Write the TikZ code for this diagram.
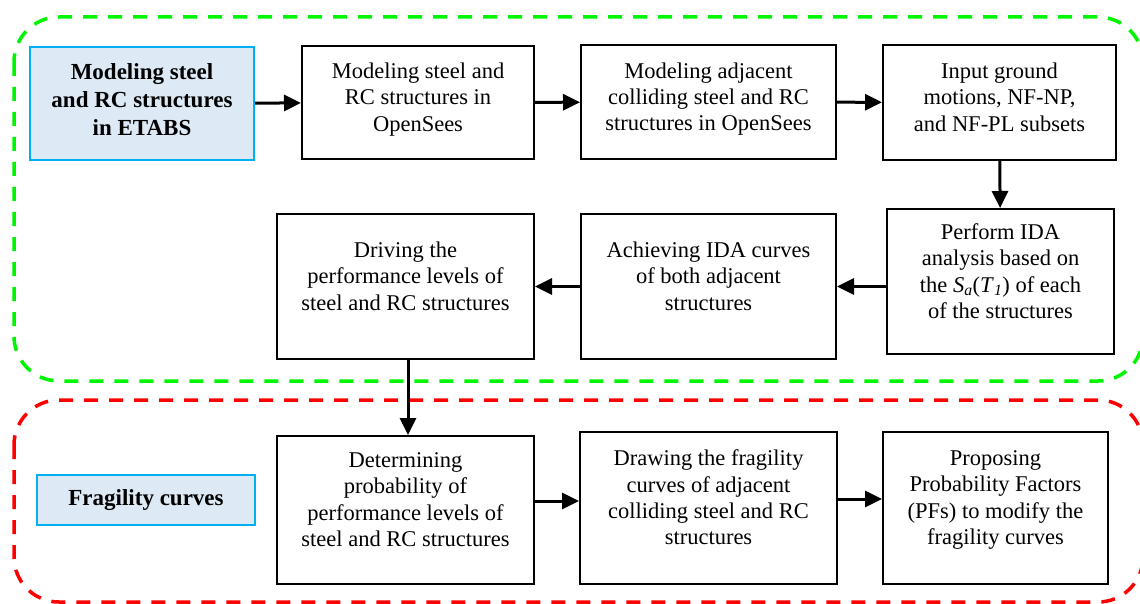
\documentclass[tikz,border=0pt]{standalone}
\usepackage{fontspec}
\setmainfont{Liberation Serif}
\usepackage{tikz}
\usetikzlibrary{arrows.meta, positioning}
\definecolor{headBlue}{RGB}{0, 176, 240}
\definecolor{headFill}{RGB}{221, 233, 245}
\definecolor{zoneGreen}{RGB}{0, 245, 0}
\definecolor{zoneRed}{RGB}{255, 0, 0}
\tikzset{
    process/.style={draw=black, line width=2pt, align=center, inner sep=0pt,
        font=\fontsize{22.5}{26.3}\selectfont, text depth=11pt},
    tall/.style={text depth=21pt},
    keybox/.style={draw=headBlue, fill=headFill, line width=2pt, align=center, inner sep=0pt,
        font=\fontsize{23}{28}\selectfont\bfseries},
    link/.style={line width=3pt, -{Triangle[length=17pt, width=16pt]}},
    zone/.style={line width=3.5pt, dash pattern=on 14pt off 11pt, rounded corners=45pt}
}

\begin{document}
\begin{tikzpicture}[x=1pt, y=-1pt]
    \useasboundingbox (0,0) rectangle (1140,604);

    % Draw the two dashed zones
    \draw[zone, draw=zoneGreen] (14,17) rectangle (1143,381);
    \draw[zone, draw=zoneRed] (14,400) rectangle (1143,602);

    % Modeling stage
    \node[keybox, text depth=7pt, minimum width=224pt, minimum height=113pt] (etabs) at (142,103.5)
        {Modeling steel\\ and RC structures\\ in ETABS};
    \node[process, minimum width=232pt, minimum height=113pt] (opensees) at (418,102.5)
        {Modeling steel and\\ RC structures in\\ OpenSees};
    \node[process, minimum width=255pt, minimum height=114pt] (adjacent) at (708.5,102)
        {Modeling adjacent\\ colliding steel and RC\\ structures in OpenSees};
    \node[process, minimum width=233pt, minimum height=115pt] (motions) at (999.5,102.5)
        {Input ground\\ motions, NF-NP,\\ and NF-PL subsets};
    \node[process, tall, minimum width=227pt, minimum height=145pt] (ida) at (1000.5,281.5)
        {Perform IDA\\ analysis based on\\ the \textit{S}\textsubscript{\textit{a}}(\textit{T}\textsubscript{\textit{1}}) of each\\ of the structures};
    \node[process, tall, minimum width=255pt, minimum height=145pt] (idacurves) at (708.5,286.5)
        {Achieving IDA curves\\ of both adjacent\\ structures};
    \node[process, tall, minimum width=257pt, minimum height=145pt] (levels) at (405.5,286.5)
        {Driving the\\ performance levels of\\ steel and RC structures};

    % Fragility stage
    \node[keybox, minimum width=218pt, minimum height=50pt] (fragility) at (146,500)
        {Fragility curves};
    \node[process, tall, minimum width=257pt, minimum height=148pt] (probability) at (405.5,510)
        {Determining\\ probability of\\ performance levels of\\ steel and RC structures};
    \node[process, tall, minimum width=257pt, minimum height=152pt] (drawing) at (708.5,508)
        {Drawing the fragility\\ curves of adjacent\\ colliding steel and RC\\ structures};
    \node[process, tall, minimum width=225pt, minimum height=152pt] (factors) at (995.5,508)
        {Proposing\\ Probability Factors\\ (PFs) to modify the\\ fragility curves};

    % Connectors
    \draw[link] (etabs) -- (opensees);
    \draw[link] (opensees) -- (adjacent);
    \draw[link] (adjacent) -- (motions);
    \draw[link] (motions) -- (ida);
    \draw[link] (ida.west |- idacurves.east) -- (idacurves);
    \draw[link] (idacurves) -- (levels);
    \draw[link] ([xshift=2.5pt]levels.south) -- ([xshift=2.5pt]probability.north);
    \draw[link] ([yshift=9pt]probability.east) -- ([yshift=9pt]probability.east -| drawing.west);
    \draw[link] ([yshift=9pt]drawing.east) -- ([yshift=9pt]drawing.east -| factors.west);
\end{tikzpicture}
\end{document}
